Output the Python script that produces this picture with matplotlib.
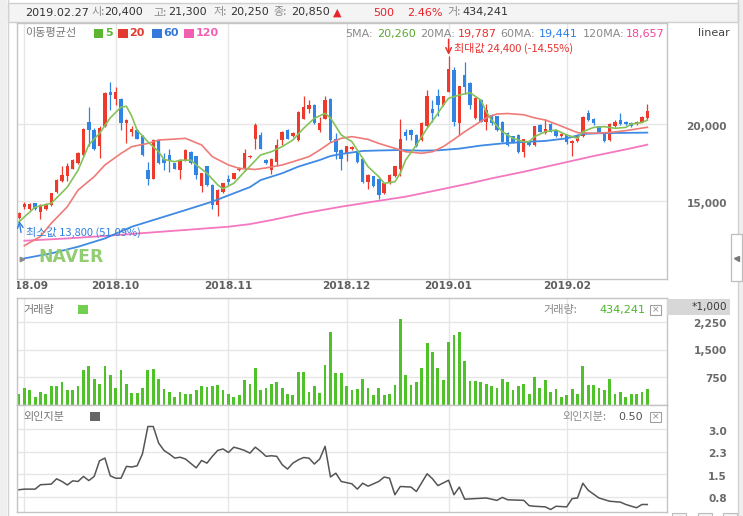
import matplotlib
matplotlib.use('Agg')
import matplotlib.pyplot as plt
from matplotlib.patches import Rectangle
from matplotlib.transforms import blended_transform_factory, offset_copy

W, H = 743, 516
KR = ['Noto Sans CJK KR', 'DejaVu Sans']
NUM = ['DejaVu Sans', 'Noto Sans CJK KR']
plt.rcParams['font.family'] = NUM

# ---------------- data ----------------
opens = [13870, 14630, 14450, 14850, 14300, 14450, 14750, 15600, 16300, 16600,
         17100, 17450, 18000, 20100, 19600, 18550, 19850, 22050, 21600, 21650,
         20050, 19450, 19600, 19200, 17000, 16450, 18950, 17750, 18000, 17450,
         17000, 17650, 18200, 17900, 15950, 17250, 16050, 14750, 15600, 16450,
         16450, 17000, 17050, 17850, 19050, 19300, 17650, 17000, 17550, 18950,
         19600, 19200, 18950, 20350, 21000, 21250, 19600, 20350, 21650, 19050,
         18300, 18100, 18350, 18200, 17750, 16250, 16600, 16450, 15500, 16150,
         16600, 17100, 19450, 19600, 19300, 18950, 19850, 21000, 21800, 21250,
         22100, 23500, 20050, 23200, 22650, 20400, 21550, 20150, 20600, 20500,
         20150, 19400, 19200, 19300, 18200, 18850, 18650, 19950, 19400, 20000,
         19600, 19200, 19300, 18750, 18900, 19200, 20700, 20350, 19850, 19350,
         18950, 19850, 20250, 20150, 20050, 20000, 20150, 20400]
highs = [14300, 14950, 14850, 14900, 14800, 14850, 15550, 16400, 17250, 17450,
         17700, 18200, 19750, 21100, 19750, 19850, 22050, 22700, 22400, 21700,
         20350, 19900, 19700, 19300, 17550, 19000, 19000, 18100, 18400, 17500,
         17700, 18400, 18250, 17950, 16850, 17300, 16100, 15750, 16200, 16700,
         16850, 17200, 18400, 18000, 20050, 19450, 17700, 17800, 19050, 19550,
         19700, 19450, 20850, 21800, 21550, 21300, 20450, 21850, 21700, 19400,
         18350, 18600, 18600, 18300, 17800, 16750, 16650, 16500, 16200, 16750,
         17300, 20350, 19700, 19650, 19350, 20100, 22200, 21550, 22300, 21850,
         24400, 23700, 22500, 24050, 22700, 21750, 21600, 21300, 20650, 20550,
         20200, 19450, 19250, 19350, 19050, 18900, 19900, 20000, 20300, 20050,
         19650, 19400, 19350, 18950, 19250, 20500, 20900, 20400, 19900, 19400,
         20050, 20250, 20700, 20200, 20100, 20200, 20500, 21300]
lows = [13800, 14450, 14400, 14400, 13850, 14400, 14700, 15550, 16250, 16300,
        17050, 17400, 17950, 18550, 18300, 17800, 19800, 20900, 21250, 19600,
        18750, 19200, 19000, 17950, 16050, 16400, 17400, 17000, 16900, 17050,
        16450, 17600, 17400, 16450, 15600, 16000, 14500, 14000, 15500, 16050,
        16400, 16950, 16950, 17800, 18400, 18350, 17400, 16750, 17250, 18650,
        19000, 19150, 18900, 20300, 20700, 20000, 19500, 20300, 18850, 17750,
        17000, 17600, 18300, 17450, 16200, 15750, 15900, 15150, 15450, 16100,
        16550, 16600, 18950, 18950, 18500, 18900, 19800, 20150, 20500, 21200,
        22050, 19850, 19300, 21950, 21000, 20300, 20100, 19600, 19950, 19550,
        18800, 18550, 18750, 18100, 17850, 18600, 18600, 19450, 19350, 19450,
        19150, 19150, 18700, 17950, 18850, 19150, 20200, 19950, 19450, 18850,
        18900, 19800, 19950, 19950, 19800, 19950, 20100, 20250]
closes = [14200, 14800, 14800, 14450, 14750, 14800, 15500, 16350, 16700, 17250,
          17650, 18100, 19700, 19600, 18400, 19750, 22000, 21900, 22100, 20050,
          20250, 19700, 19050, 18000, 16450, 18950, 17450, 17450, 17650, 17100,
          17650, 18300, 17450, 16700, 16800, 16050, 14750, 15700, 16150, 16250,
          16800, 17100, 18100, 17900, 19950, 18400, 17450, 17750, 18650, 19450,
          19050, 19400, 20800, 21100, 21250, 20050, 20050, 21550, 18950, 18200,
          17750, 18550, 18500, 17550, 16250, 16700, 15950, 15400, 16150, 16700,
          17250, 19050, 19200, 19300, 18550, 20050, 21800, 20700, 21250, 21800,
          23550, 20150, 22450, 22400, 21250, 21700, 20150, 20900, 20050, 19600,
          18850, 18650, 18850, 18200, 19000, 18650, 19850, 19500, 19700, 19500,
          19200, 19350, 18850, 18900, 19200, 20450, 20250, 20050, 19500, 18900,
          20000, 20150, 20000, 20000, 19850, 20150, 20450, 20850]
volume = [286, 468, 395, 214, 350, 286, 514, 514, 632, 395,
          395, 514, 950, 1059, 695, 577, 1059, 814, 450, 941,
          577, 332, 332, 450, 941, 968, 695, 423, 350, 214,
          350, 286, 286, 395, 514, 486, 514, 532, 395, 286,
          214, 268, 668, 577, 1014, 395, 468, 577, 632, 450,
          286, 277, 895, 895, 350, 514, 332, 1077, 1995, 877,
          877, 514, 395, 423, 695, 450, 259, 468, 259, 286,
          532, 2332, 805, 532, 632, 995, 1695, 1450, 1014, 668,
          1723, 1905, 1995, 1195, 650, 650, 632, 577, 514, 450,
          695, 632, 405, 514, 559, 286, 759, 450, 668, 350,
          423, 223, 268, 423, 286, 1059, 532, 532, 450, 395,
          714, 286, 350, 223, 286, 286, 350, 434]

ma5_idx = [0, 3, 6, 9, 11, 13, 15, 17, 19, 20, 21, 22, 24, 26, 27, 29, 30, 32, 33, 35,
           37, 38, 40, 42, 45, 47, 49, 51, 53, 55, 57, 58, 60, 62, 63, 65, 67, 68, 70, 71,
           72, 74, 76, 78, 79, 80, 82, 84, 86, 87, 88, 90, 92, 94, 95, 96, 98, 100, 102, 104,
           105, 107, 109, 111, 113, 114, 116, 117]
ma5_val = [13650, 14600, 14850, 15900, 17000, 18650, 19400, 20400, 21100, 21150,
           20500, 19600, 18850, 18200, 17700, 17550, 17650, 17650, 17350, 16800,
           16050, 15800, 16150, 16900, 17990, 18200, 18530, 18960, 19720, 20370,
           20690, 20400, 19290, 18850, 18310, 17230, 16580, 16150, 16250, 16800,
           17660, 18640, 19720, 20690, 21230, 21670, 21880, 22030, 21550, 20800,
           20260, 19500, 19070, 18850, 18850, 19180, 19500, 19610, 19290, 19070,
           19500, 19780, 19830, 19720, 19780, 20000, 20090, 20260]
ma20_idx = [1, 4, 6, 9, 11, 14, 16, 19, 21, 24, 26, 29, 31, 34, 36, 39, 41, 44, 46, 49,
            51, 54, 56, 58, 60, 62, 65, 67, 70, 72, 75, 77, 79, 81, 83, 85, 87, 89, 91, 94,
            96, 98, 100, 102, 104, 107, 110, 113, 117]
ma20_val = [12100, 12700, 13550, 14630, 15710, 16580, 17340, 18090, 18530, 18740,
            18960, 19020, 19070, 18640, 17880, 17340, 17120, 17050, 17150, 17340,
            17550, 17880, 18310, 18790, 19070, 19180, 19000, 18740, 18420, 18200,
            18100, 18200, 18530, 19000, 19500, 19950, 20400, 20650, 20680, 20600,
            20400, 20260, 20000, 19720, 19440, 19400, 19450, 19570, 19787]
ma60_idx = [1, 6, 11, 16, 21, 26, 31, 36, 40, 43, 45, 49, 52, 56, 58, 60, 64, 67, 71, 75,
            78, 82, 86, 90, 95, 98, 102, 105, 108, 112, 117]
ma60_val = [11275, 11600, 12030, 12570, 13330, 13870, 14410, 14960, 15500, 15900,
            16360, 16800, 17230, 17660, 17920, 18050, 18250, 18280, 18310, 18270,
            18290, 18400, 18600, 18740, 18850, 18900, 19070, 19350, 19400, 19420, 19441]
ma120_idx = [1, 9, 16, 24, 31, 39, 43, 47, 53, 60, 66, 72, 78, 84, 88, 94, 101, 107, 113, 117]
ma120_val = [12420, 12570, 12730, 12940, 13120, 13330, 13500, 13760, 14200, 14630,
             14960, 15280, 15710, 16150, 16470, 16900, 17450, 17920, 18350, 18657]

foreign_idx = [0, 1, 3, 4, 6, 7, 8, 9, 10, 11, 12, 13, 14, 15, 16, 17, 18, 19, 20, 21,
               22, 23, 24, 25, 26, 27, 28, 29, 30, 31, 33, 34, 35, 36, 37, 38, 39, 40, 41, 42,
               43, 44, 45, 46, 47, 48, 49, 50, 51, 52, 53, 54, 55, 56, 57, 58, 59, 60, 62, 63,
               64, 65, 67, 68, 69, 70, 71, 73, 74, 76, 77, 78, 80, 81, 82, 83, 86, 87, 89, 90,
               91, 94, 95, 96, 98, 99, 100, 102, 103, 104, 105, 106, 108, 110, 112, 113, 115, 116, 117]
foreign_val = [1.00, 1.02, 1.02, 1.17, 1.19, 1.37, 1.28, 1.16, 1.30, 1.28,
               1.45, 1.31, 1.45, 1.98, 2.07, 1.47, 1.39, 1.39, 1.79, 1.77,
               1.81, 2.22, 3.14, 3.14, 2.58, 2.33, 2.21, 2.07, 2.10, 2.04,
               1.74, 1.99, 1.90, 2.13, 2.33, 2.38, 2.26, 2.44, 2.39, 2.33,
               2.24, 2.44, 2.30, 2.13, 2.15, 2.13, 1.85, 1.70, 1.90, 2.01,
               2.09, 2.07, 1.87, 2.04, 2.47, 1.43, 1.56, 1.28, 1.20, 1.02,
               1.22, 1.12, 1.28, 1.43, 1.39, 0.83, 1.11, 1.09, 0.94, 1.54,
               1.37, 1.14, 1.32, 0.83, 1.09, 0.68, 0.71, 0.72, 0.64, 0.74,
               0.66, 0.64, 0.46, 0.44, 0.42, 0.33, 0.44, 0.42, 0.70, 0.72,
               1.22, 0.98, 0.72, 0.61, 0.58, 0.50, 0.39, 0.50, 0.50]

month_idx = [1, 18, 39, 61, 80, 102]
month_labels = ['2018.09', '2018.10', '2018.11', '2018.12', '2019.01', '2019.02']
price_ticks = [20000, 15000]
vol_ticks = [750, 1500, 2250]
foreign_ticks = [0.76, 1.52, 2.28, 3.04]

# ---------------- style ----------------
RED = '#ee3a2d'
BLUE = '#2f84e4'
GRID = '#e6e6e6'
BORDER = '#c4c4c4'
XMIN, XMAX = (17 - 19) / 5.37, (667 - 19) / 5.37

fig = plt.figure(figsize=(W / 100, H / 100), dpi=100)
fig.patch.set_facecolor('white')


def axbox(x0, y0, x1, y1):
    return [x0 / W, 1 - y1 / H, (x1 - x0) / W, (y1 - y0) / H]


bg = fig.add_axes([0, 0, 1, 1], zorder=0)
bg.set_xlim(0, W); bg.set_ylim(H, 0); bg.axis('off')
fg = fig.add_axes([0, 0, 1, 1], zorder=10)
fg.set_xlim(0, W); fg.set_ylim(H, 0); fg.axis('off')

# frame decorations
bg.add_patch(Rectangle((0, 0), 7, H, fc='#efefef', ec='none'))
bg.plot([7.5, 7.5], [0, H], color='#d2d2d2', lw=1)
bg.add_patch(Rectangle((738, 0), 5, H, fc='#efefef', ec='none'))
bg.plot([738, 738], [0, H], color='#d2d2d2', lw=1)
bg.add_patch(Rectangle((8, 2.5), 730, 19.5, fc='#f4f4f4', ec='#d0d0d0', lw=1))
for bx in [672, 698, 723]:
    bg.add_patch(Rectangle((bx, 513), 14, 5, fc='#f4f4f4', ec='#bbbbbb', lw=0.8))


def style(ax):
    ax.set_xlim(XMIN, XMAX)
    ax.set_xticks([]); ax.set_yticks([])
    ax.set_facecolor('white')
    for s in ax.spines.values():
        s.set_color(BORDER); s.set_linewidth(1)
    for m in month_idx:
        ax.axvline(m, color=GRID, lw=1, zorder=0)


def rlabels(ax, vals, labels, dy):
    tr = offset_copy(blended_transform_factory(ax.transAxes, ax.transData),
                     fig=fig, x=0, y=-dy, units='dots')
    for v, lab in zip(vals, labels):
        ax.text((727 - 17) / 650, v, lab, transform=tr, ha='right', va='center',
                fontsize=7.6, fontweight='bold', color='#6a6a6a', family='DejaVu Sans')


# ---------------- price panel ----------------
axp = fig.add_axes(axbox(17, 23, 667, 279), zorder=1)
style(axp)
axp.set_ylim(9935, 26559)
for t in price_ticks:
    axp.axhline(t, color=GRID, lw=1, zorder=0)
for i, (o, h, l, c) in enumerate(zip(opens, highs, lows, closes)):
    col = RED if c >= o else BLUE
    axp.vlines(i, l, h, color=col, lw=0.9, zorder=2)
    axp.bar(i, max(abs(c - o), 40), bottom=min(o, c), width=0.64, color=col,
            lw=0, zorder=2)
axp.plot(ma120_idx, ma120_val, color='#f577c0', lw=1.3, zorder=3)
axp.plot(ma60_idx, ma60_val, color='#3f8ae4', lw=1.3, zorder=3)
axp.plot(ma20_idx, ma20_val, color='#ef7b78', lw=1.2, zorder=3)
axp.plot(ma5_idx, ma5_val, color='#85c25a', lw=1.2, zorder=3)
rlabels(axp, price_ticks, [f'{v:,}' for v in price_ticks], 3)

imax = highs.index(max(highs))
imin = lows.index(min(lows))
axp.annotate('', xy=(imax, highs[imax]), xytext=(0, 17), textcoords='offset pixels',
             arrowprops=dict(arrowstyle='->', color='#e8322e', lw=1.1,
                             shrinkA=0, shrinkB=1), zorder=6)
axp.annotate('', xy=(imin, lows[imin]), xytext=(2, -13), textcoords='offset pixels',
             arrowprops=dict(arrowstyle='->', color='#2f7fe0', lw=1.0,
                             shrinkA=0, shrinkB=1), zorder=6)

# x labels row
axx = fig.add_axes(axbox(17, 279, 667, 298), zorder=1)
axx.set_xlim(XMIN, XMAX); axx.set_ylim(0, 1); axx.axis('off')
for m, lab in zip(month_idx, month_labels):
    axx.text(m, 0.62, lab, ha='center', va='center', fontsize=7.6,
             fontweight='bold', color='#5e5e5e', clip_on=True)

# ---------------- volume panel ----------------
axv = fig.add_axes(axbox(17, 298, 667, 405), zorder=1)
style(axv)
axv.set_ylim(-5, 2913)
for t in vol_ticks:
    axv.axhline(t, color=GRID, lw=1, zorder=0)
axv.bar(range(len(volume)), volume, width=0.52, color='#4fc22a', lw=0, zorder=2)
rlabels(axv, vol_ticks, [f'{v:,}' for v in vol_ticks], 1.5)

# ---------------- foreign share panel ----------------
axf = fig.add_axes(axbox(17, 405, 667, 511.5), zorder=1)
style(axf)
axf.set_ylim(0.263, 3.868)
for t in foreign_ticks:
    axf.axhline(t, color=GRID, lw=1, zorder=0)
axf.plot(foreign_idx, foreign_val, color='#555555', lw=1.1, zorder=3)
rlabels(axf, foreign_ticks, [f'{v:.1f}' for v in foreign_ticks], 2.5)


# ---------------- texts ----------------
def T(x, y, s, **kw):
    kw.setdefault('va', 'center')
    kw.setdefault('ha', 'left')
    kw.setdefault('fontsize', 8)
    return fg.text(x, y, s, **kw)


DARK = '#333333'
GRAY = '#8a8a8a'
hy = 12.5
T(25, hy, '2019.02.27', color=DARK)
for x, s, c in [(91, '시:', GRAY), (104, '20,400', DARK), (153, '고:', GRAY),
                (168, '21,300', DARK), (213, '저:', GRAY), (230, '20,250', DARK),
                (273, '종:', GRAY), (291, '20,850', DARK), (333, '▲', '#e8232a'),
                (373, '500', '#e8232a'), (407, '2.46%', '#e8232a'),
                (447, '거:', GRAY), (462, '434,241', DARK)]:
    T(x, hy, s, color=c, family=KR if s.endswith(':') else NUM)

# MA legend
T(25, 33, '이동평균선', color='#777777', family=KR)
for x, w, fc, lab, tx in [(94, 9, '#5db531', '5', 105), (118, 10, '#e33a2f', '20', 129),
                          (152, 10, '#3579dc', '60', 163), (184, 10, '#f35fb0', '120', 196)]:
    fg.add_patch(Rectangle((x, 29), w, 8.5, fc=fc, ec='none'))
    T(tx, 33, lab, color=fc, fontweight='bold')

for x, s, c in [(345, '5MA:', GRAY), (377, f'{ma5_val[-1]:,}', '#5aa82e'),
                (420, '20MA:', GRAY), (458, f'{ma20_val[-1]:,}', '#e8322e'),
                (500, '60MA:', GRAY), (539, f'{ma60_val[-1]:,}', '#2d7fe3'),
                (583, '120MA:', GRAY), (626, f'{ma120_val[-1]:,}', '#f0459d')]:
    T(x, 34, s, color=c)
T(698, 33, 'linear', color='#444444')

T(454, 48, f'최대값 {max(highs):,} (-14.55%)', color='#e8322e', family=KR)
T(26, 232, f'최소값 {min(lows):,} (51.09%)', color='#2f7fe0', family=KR)
T(38, 256.5, 'NAVER', fontsize=12.4, fontweight='bold', color='#8ccb6c', alpha=0.95)

# side tabs
fg.plot([21.5], [258.5], marker='>', ms=3.2, color='#8a8a8a', lw=0)
fg.add_patch(Rectangle((730.5, 234), 11, 47, fc='white', ec='#bdbdbd', lw=0.9))
fg.plot([735.5], [258], marker='<', ms=3.6, color='#777777', lw=0)

# volume labels
T(23, 310, '거래량', color='#777777', family=KR)
fg.add_patch(Rectangle((78, 305), 10, 9, fc='#72cf52', ec='none'))
T(543, 310, '거래량:', color=GRAY, family=KR)
T(599, 310, f'{volume[-1] * 1000 + 241:,}', color='#4db52a')
fg.add_patch(Rectangle((650, 304.5), 11, 10.5, fc='white', ec='#a0a0a0', lw=0.8))
T(655.5, 309.5, '×', ha='center', fontsize=6.5, color='#888888')
fg.add_patch(Rectangle((667, 299), 63, 16, fc='#d7d7d7', ec='none'))
T(727, 307, '*1,000', ha='right', fontsize=7.6, color='#3a3a3a')

# foreign labels
T(23, 417, '외인지분', color='#777777', family=KR)
fg.add_patch(Rectangle((90, 412), 10, 9, fc='#666666', ec='none'))
T(562, 417, '외인지분:', color=GRAY, family=KR)
T(618, 417, f'{foreign_val[-1]:.2f}', color='#555555')
fg.add_patch(Rectangle((650, 411.5), 11, 10.5, fc='white', ec='#a0a0a0', lw=0.8))
T(655.5, 416.5, '×', ha='center', fontsize=6.5, color='#888888')

fig.savefig('out.png', dpi=100, facecolor='white')
